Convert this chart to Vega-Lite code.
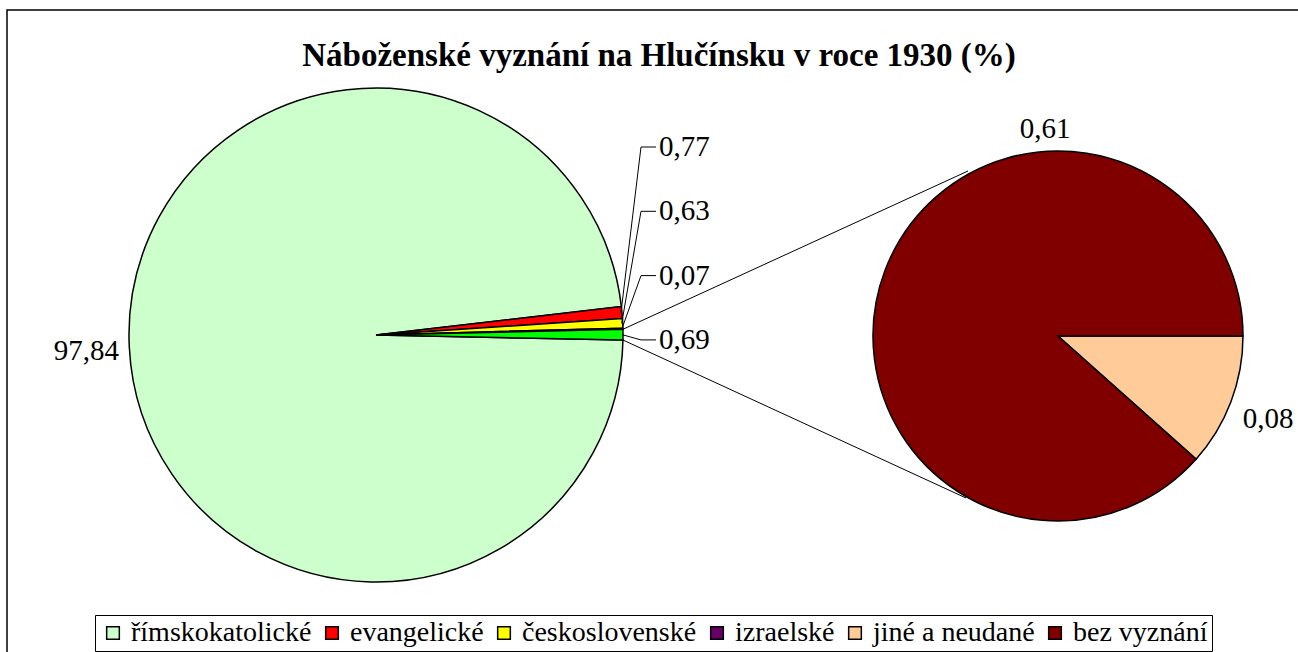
{
  "$schema": "https://vega.github.io/schema/vega-lite/v6.json",
  "width": 1298,
  "height": 652,
  "autosize": {"type": "none"},
  "padding": {"left": 7, "top": 10, "right": 0, "bottom": 0},
  "background": "white",
  "config": {"view": {"stroke": "black", "strokeWidth": 1.5}, "font": "Liberation Serif"},
  "title": {"text": "Náboženské vyznání na Hlučínsku v roce 1930 (%)", "font": "Liberation Serif", "fontSize": 33, "fontWeight": "bold", "color": "black", "anchor": "middle", "frame": "group", "offset": -56, "baseline": "alphabetic", "dx": 3, "dy": 33},
  "datasets": {
    "main": [
      {"category": "římskokatolické", "value": 97.84, "label": "97,84", "order": 1},
      {"category": "evangelické", "value": 0.77, "label": "0,77", "order": 2},
      {"category": "československé", "value": 0.63, "label": "0,63", "order": 3},
      {"category": "izraelské", "value": 0.07, "label": "0,07", "order": 4},
      {"category": "ostatní", "value": 0.69, "label": "0,69", "order": 5}
    ],
    "secondary": [
      {"category": "jiné a neudané", "value": 0.08, "label": "0,08", "order": 1},
      {"category": "bez vyznání", "value": 0.61, "label": "0,61", "order": 2}
    ]
  },
  "resolve": {"scale": {"theta": "independent"}},
  "layer": [
    {
      "data": {"name": "main"},
      "transform": [
        {"stack": "value", "groupby": [], "sort": [{"field": "order", "order": "ascending"}], "as": ["s0", "s1"]},
        {"filter": "datum.category === 'ostatní'"},
        {"calculate": "1.591 + 2*PI*datum.s0/100", "as": "a0"},
        {"calculate": "1.591 + 2*PI*datum.s1/100", "as": "a1"},
        {"calculate": "376 + 247*sin(datum.a0)", "as": "sx"},
        {"calculate": "335 - 247*cos(datum.a0)", "as": "sy"},
        {"calculate": "376 + 247*sin(datum.a1)", "as": "ex"},
        {"calculate": "335 - 247*cos(datum.a1)", "as": "ey"}
      ],
      "layer": [
        {
          "mark": {"type": "rule", "color": "black", "strokeWidth": 1},
          "encoding": {
            "x": {"field": "sx", "type": "quantitative", "scale": {"domain": [7, 1305], "nice": false, "zero": false}, "axis": null},
            "y": {"field": "sy", "type": "quantitative", "scale": {"domain": [10, 662], "reverse": true, "nice": false, "zero": false}, "axis": null},
            "x2": {"datum": 968},
            "y2": {"datum": 171}
          }
        },
        {
          "mark": {"type": "rule", "color": "black", "strokeWidth": 1},
          "encoding": {
            "x": {"field": "ex", "type": "quantitative", "scale": {"domain": [7, 1305], "nice": false, "zero": false}, "axis": null},
            "y": {"field": "ey", "type": "quantitative", "scale": {"domain": [10, 662], "reverse": true, "nice": false, "zero": false}, "axis": null},
            "x2": {"datum": 966},
            "y2": {"datum": 498}
          }
        }
      ]
    },
    {
      "data": {"name": "main"},
      "encoding": {
        "x": {"datum": 376, "type": "quantitative", "scale": {"domain": [7, 1305], "nice": false, "zero": false}, "axis": null},
        "y": {"datum": 335, "type": "quantitative", "scale": {"domain": [10, 662], "reverse": true, "nice": false, "zero": false}, "axis": null},
        "theta": {"field": "value", "type": "quantitative", "stack": true, "scale": {"range": [1.591, 7.8742]}},
        "order": {"field": "order", "type": "quantitative"},
        "detail": {"field": "category", "type": "nominal"}
      },
      "layer": [
        {
          "mark": {"type": "arc", "outerRadius": 247, "stroke": "black", "strokeWidth": 1.5},
          "encoding": {
            "color": {
              "field": "category", "type": "nominal",
              "scale": {
                "domain": ["římskokatolické", "evangelické", "československé", "izraelské", "jiné a neudané", "bez vyznání", "ostatní"],
                "range": ["#CCFFCC", "#FF0000", "#FFFF00", "#660066", "#FFCC99", "#800000", "#00FF00"]
              },
              "legend": {
                "orient": "none", "legendX": 88, "legendY": 605, "direction": "horizontal", "title": null,
                "values": ["římskokatolické", "evangelické", "československé", "izraelské", "jiné a neudané", "bez vyznání"],
                "strokeColor": "black", "fillColor": "white", "padding": 4,
                "symbolType": "square", "symbolSize": 160, "symbolStrokeColor": "black", "symbolStrokeWidth": 1.5,
                "labelFont": "Liberation Serif", "labelFontSize": 28, "labelColor": "black", "labelLimit": 0,
                "columnPadding": 6, "labelOffset": 4
              }
            }
          }
        },
        {
          "mark": {"type": "text", "radius": 290, "font": "Liberation Serif", "fontSize": 29, "fill": "black", "dy": 2},
          "encoding": {
            "text": {"condition": {"test": "datum.value > 50", "field": "label", "type": "nominal"}, "value": ""}
          }
        }
      ]
    },
    {
      "data": {"name": "secondary"},
      "encoding": {
        "x": {"datum": 1058, "type": "quantitative", "scale": {"domain": [7, 1305], "nice": false, "zero": false}, "axis": null},
        "y": {"datum": 336, "type": "quantitative", "scale": {"domain": [10, 662], "reverse": true, "nice": false, "zero": false}, "axis": null},
        "theta": {"field": "value", "type": "quantitative", "stack": true, "scale": {"range": [1.5708, 7.854]}},
        "order": {"field": "order", "type": "quantitative"},
        "detail": {"field": "category", "type": "nominal"}
      },
      "layer": [
        {
          "mark": {"type": "arc", "outerRadius": 185, "stroke": "black", "strokeWidth": 1.5},
          "encoding": {
            "color": {
              "field": "category", "type": "nominal",
              "scale": {
                "domain": ["římskokatolické", "evangelické", "československé", "izraelské", "jiné a neudané", "bez vyznání", "ostatní"],
                "range": ["#CCFFCC", "#FF0000", "#FFFF00", "#660066", "#FFCC99", "#800000", "#00FF00"]
              },
              "legend": {
                "orient": "none", "legendX": 88, "legendY": 605, "direction": "horizontal", "title": null,
                "values": ["římskokatolické", "evangelické", "československé", "izraelské", "jiné a neudané", "bez vyznání"],
                "strokeColor": "black", "fillColor": "white", "padding": 4,
                "symbolType": "square", "symbolSize": 160, "symbolStrokeColor": "black", "symbolStrokeWidth": 1.5,
                "labelFont": "Liberation Serif", "labelFontSize": 28, "labelColor": "black", "labelLimit": 0,
                "columnPadding": 6, "labelOffset": 4
              }
            }
          }
        },
        {
          "mark": {"type": "text", "radius": 225, "font": "Liberation Serif", "fontSize": 29, "fill": "black", "dy": 3},
          "encoding": {
            "text": {"condition": {"test": "datum.category === 'jiné a neudané'", "field": "label", "type": "nominal"}, "value": ""}
          }
        }
      ]
    },
    {
      "data": {"name": "secondary"},
      "transform": [{"filter": "datum.category === 'bez vyznání'"}],
      "mark": {"type": "text", "font": "Liberation Serif", "fontSize": 29, "fill": "black"},
      "encoding": {
        "x": {"datum": 1045, "type": "quantitative", "scale": {"domain": [7, 1305], "nice": false, "zero": false}, "axis": null},
        "y": {"datum": 129, "type": "quantitative", "scale": {"domain": [10, 662], "reverse": true, "nice": false, "zero": false}, "axis": null},
        "text": {"field": "label", "type": "nominal"}
      }
    },
    {
      "data": {"name": "main"},
      "transform": [
        {"stack": "value", "groupby": [], "sort": [{"field": "order", "order": "ascending"}], "as": ["s0", "s1"]},
        {"filter": "datum.order >= 2"},
        {"calculate": "1.591 + PI*(datum.s0 + datum.s1)/100", "as": "mid"},
        {"calculate": "376 + 246*sin(datum.mid)", "as": "px"},
        {"calculate": "335 - 246*cos(datum.mid)", "as": "py"},
        {"calculate": "147 + 64.3*(datum.order - 2)", "as": "labelY"}
      ],
      "layer": [
        {
          "mark": {"type": "rule", "color": "black", "strokeWidth": 1},
          "encoding": {
            "x": {"field": "px", "type": "quantitative", "scale": {"domain": [7, 1305], "nice": false, "zero": false}, "axis": null},
            "y": {"field": "py", "type": "quantitative", "scale": {"domain": [10, 662], "reverse": true, "nice": false, "zero": false}, "axis": null},
            "x2": {"datum": 641},
            "y2": {"field": "labelY"}
          }
        },
        {
          "mark": {"type": "rule", "color": "black", "strokeWidth": 1},
          "encoding": {
            "x": {"datum": 641, "type": "quantitative", "scale": {"domain": [7, 1305], "nice": false, "zero": false}, "axis": null},
            "x2": {"datum": 656},
            "y": {"field": "labelY", "type": "quantitative", "scale": {"domain": [10, 662], "reverse": true, "nice": false, "zero": false}, "axis": null}
          }
        },
        {
          "mark": {"type": "text", "align": "left", "font": "Liberation Serif", "fontSize": 29, "fill": "black"},
          "encoding": {
            "x": {"datum": 659, "type": "quantitative", "scale": {"domain": [7, 1305], "nice": false, "zero": false}, "axis": null},
            "y": {"field": "labelY", "type": "quantitative", "scale": {"domain": [10, 662], "reverse": true, "nice": false, "zero": false}, "axis": null},
            "text": {"field": "label", "type": "nominal"}
          }
        }
      ]
    }
  ]
}
